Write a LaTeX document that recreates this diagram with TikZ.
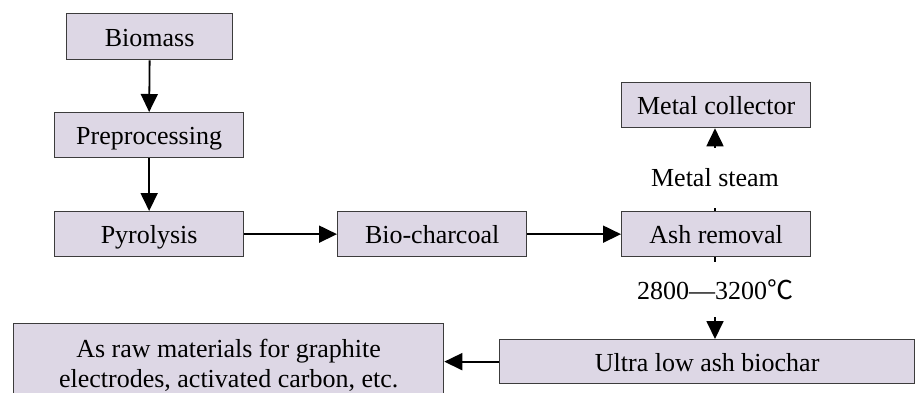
\documentclass[tikz,border=0pt]{standalone}
\usepackage{fontspec}
\setmainfont{Liberation Serif}
\newfontfamily\cjk{Noto Sans CJK SC}
\usetikzlibrary{arrows.meta}
\definecolor{boxfill}{RGB}{221,215,229}
\definecolor{boxline}{RGB}{60,60,60}
\tikzset{
  procbox/.style={draw=boxline, line width=1.3pt, fill=boxfill, inner sep=0pt, anchor=north west,
    font=\fontsize{26}{30}\selectfont, text height=22pt, text depth=3pt},
  conn/.style={line width=1.8pt, -{Triangle[length=18pt,width=17pt]}},
  plain/.style={line width=1.8pt},
  lbl/.style={inner sep=0pt, font=\fontsize{26}{30}\selectfont}
}
\begin{document}
\begin{tikzpicture}[x=1pt,y=-1pt]
\useasboundingbox (0,0) rectangle (916,392);
\node[procbox, minimum width=166pt, minimum height=46pt] (bio) at (66,13) {Biomass};
\node[procbox, minimum width=189pt, minimum height=45pt] (pre) at (54,112) {Preprocessing};
\node[procbox, minimum width=189pt, minimum height=45pt] (pyr) at (54,211) {Pyrolysis};
\node[procbox, minimum width=189pt, minimum height=45pt] (bch) at (337,211) {Bio-charcoal};
\node[procbox, minimum width=189pt, minimum height=45pt] (ash) at (621,211) {Ash removal};
\node[procbox, minimum width=189pt, minimum height=45pt] (mc) at (621,82) {Metal collector};
\node[procbox, minimum width=415pt, minimum height=44pt] (ula) at (499,339) {Ultra low ash biochar};
\node[procbox, align=center, minimum width=430pt, minimum height=84pt, text height=, text depth=] (raw) at (13,323)
  {As raw materials for graphite\\electrodes, activated carbon, etc.};
\node[lbl, minimum height=60pt] (ms) at (715,178) {Metal steam};
\node[lbl, minimum height=55pt] (tmp) at (715,289.5) {2800—3200{\cjk ℃}};
\draw[conn] (bio.south) -- (pre.north);
\draw[conn] (pre.south) -- (pyr.north);
\draw[conn] (pyr.east) -- (bch.west);
\draw[conn] (bch.east) -- (ash.west);
\draw[plain] (ash.north -| ms.south) -- (ms.south);
\draw[conn] (ms.north) -- (ms.north |- mc.south);
\draw[plain] (ash.south -| tmp.north) -- (tmp.north);
\draw[conn] (tmp.south) -- (tmp.south |- ula.north);
\draw[conn] (ula.west) -- (ula.west -| raw.east);
\end{tikzpicture}
\end{document}
